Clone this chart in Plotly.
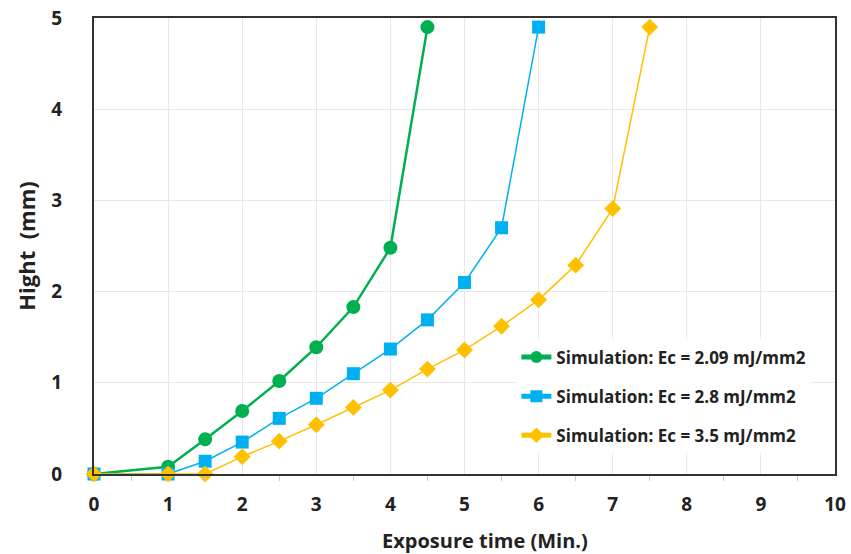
import plotly.graph_objects as go

x_green = [0, 1, 1.5, 2, 2.5, 3, 3.5, 4, 4.5]
y_green = [0, 0.08, 0.38, 0.69, 1.02, 1.39, 1.83, 2.48, 4.90]

x_blue = [0, 1, 1.5, 2, 2.5, 3, 3.5, 4, 4.5, 5, 5.5, 6]
y_blue = [0, 0, 0.14, 0.35, 0.61, 0.83, 1.10, 1.37, 1.69, 2.10, 2.70, 4.90]

x_yellow = [0, 1, 1.5, 2, 2.5, 3, 3.5, 4, 4.5, 5, 5.5, 6, 6.5, 7, 7.5]
y_yellow = [0, 0, 0, 0.19, 0.36, 0.54, 0.73, 0.92, 1.15, 1.36, 1.62, 1.91, 2.29, 2.91, 4.90]

names = ["Simulation: Ec = 2.09 mJ/mm2",
         "Simulation: Ec = 2.8 mJ/mm2",
         "Simulation: Ec = 3.5 mJ/mm2"]

x_title = "Exposure time (Min.)"
y_title = "Hight\u00a0\u00a0(mm)"

FONT = "Open Sans"

fig = go.Figure()
fig.add_trace(go.Scatter(x=x_green, y=y_green, name=names[0], mode="lines+markers",
                         legendgroup="g1",
                         line=dict(color="#00B050", width=2.5),
                         marker=dict(symbol="circle", size=14, color="#00B050"),
                         cliponaxis=False))
fig.add_trace(go.Scatter(x=x_blue, y=y_blue, name=names[1], mode="lines+markers",
                         legendgroup="g2",
                         line=dict(color="#00B0F0", width=1.5),
                         marker=dict(symbol="square", size=13, color="#00B0F0"),
                         cliponaxis=False))
fig.add_trace(go.Scatter(x=x_yellow, y=y_yellow, name=names[2], mode="lines+markers",
                         legendgroup="g3",
                         line=dict(color="#FFC000", width=1.5),
                         marker=dict(symbol="diamond", size=13, color="#FFC000"),
                         cliponaxis=False))

fig.update_layout(
    width=851, height=554,
    margin=dict(l=94, r=16, t=18, b=80, autoexpand=False),
    paper_bgcolor="white", plot_bgcolor="white",
    font=dict(family=FONT, color="#222222"),
    showlegend=True,
    legend=dict(x=0.57, y=0.295, xanchor="left", yanchor="top",
                bgcolor="white", borderwidth=0,
                font=dict(family=FONT, size=17, color="#222222", weight="bold"),
                tracegroupgap=14, itemsizing="constant", itemwidth=30),
    annotations=[dict(text=x_title, xref="paper", yref="paper",
                      x=0.528, y=-0.145, xanchor="center", yanchor="middle",
                      showarrow=False,
                      font=dict(family=FONT, size=20, color="#222222", weight="bold"))],
)
fig.update_xaxes(range=[0, 10], dtick=1, tick0=0, automargin=False,
                 showgrid=True, gridcolor="#E8E8E8", gridwidth=1,
                 showline=True, linecolor="#333333", linewidth=2, mirror=True,
                 zeroline=False,
                 ticks="", ticklabelstandoff=12,
                 minor=dict(dtick=0.5, ticks="outside", ticklen=5, tickcolor="#CCCCCC", showgrid=False),
                 tickfont=dict(family=FONT, size=19, color="#222222", weight="bold"))
fig.update_yaxes(range=[0, 5], dtick=1, tick0=0, automargin=False,
                 showgrid=True, gridcolor="#E8E8E8", gridwidth=1,
                 showline=True, linecolor="#333333", linewidth=2, mirror=True,
                 zeroline=False,
                 ticks="", ticklabelstandoff=26,
                 tickfont=dict(family=FONT, size=19, color="#222222", weight="bold"),
                 title=dict(text=y_title, standoff=10,
                            font=dict(family=FONT, size=22, color="#222222", weight="bold")))

fig.write_html("out.html", config={"displayModeBar": False},
               post_script="document.body.style.margin='0';document.body.style.overflow='hidden';")
